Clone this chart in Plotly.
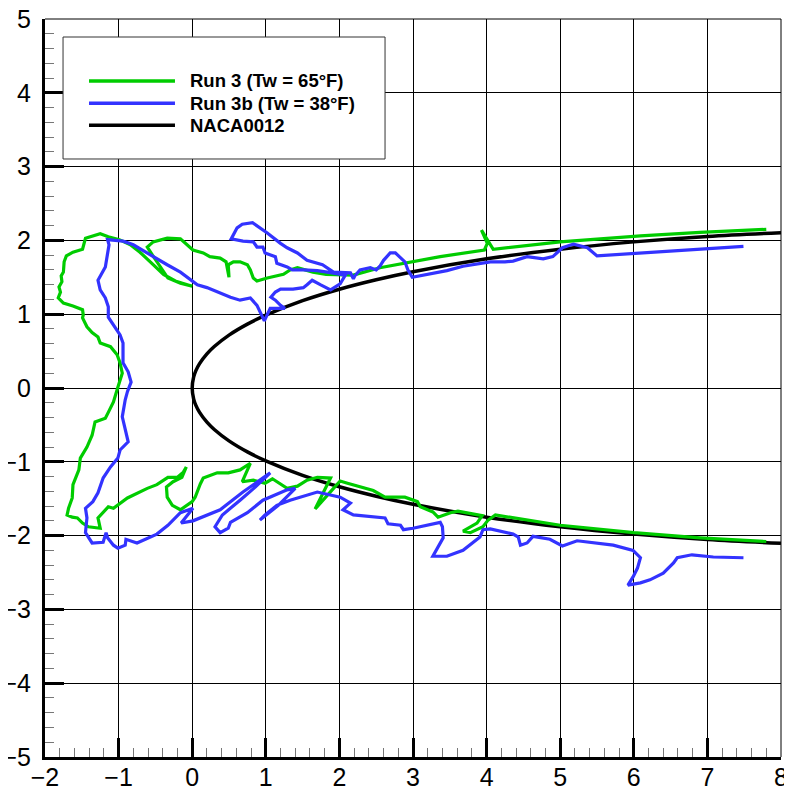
import plotly.graph_objects as go

# ---- Data ----
# NACA0012 surface (upper half; lower half is its mirror image)
naca_x = [0.0, 0.02, 0.05, 0.1, 0.2, 0.3, 0.5, 0.75, 1.0, 1.5, 2.0, 2.5, 3.0,
          4.0, 5.0, 6.0, 7.0, 8.0]
naca_yt = [0.0, 0.150, 0.235, 0.330, 0.463, 0.562, 0.717, 0.866, 0.987, 1.183,
           1.338, 1.466, 1.575, 1.750, 1.881, 1.980, 2.054, 2.105]

# Run 3 (Tw = 65 F) ice shape
run3_x = [7.80, 6.90, 6.09, 5.00, 4.09, 3.93, 4.01, 3.97, 3.37, 2.83, 2.55, 2.19,
          1.82, 1.64, 1.43, 1.33, 1.24, 1.02, 0.88, 0.83, 0.79, 0.75, 0.65, 0.56,
          0.49, 0.50, 0.46, 0.38, 0.24, 0.15, 0.01, -0.16, -0.34, -0.53, -0.61,
          -0.54, -0.43, -0.33, -0.16, 0.00, -0.23, -0.39, -0.57, -0.71, -0.84,
          -0.99, -1.14, -1.25, -1.45, -1.49, -1.62, -1.71, -1.74, -1.75, -1.78,
          -1.77, -1.81, -1.79, -1.82, -1.75, -1.62, -1.49, -1.48, -1.49, -1.43,
          -1.36, -1.28, -1.25, -1.11, -1.02, -0.98, -0.95, -1.01, -1.05, -1.07,
          -1.14, -1.18, -1.32, -1.36, -1.43, -1.52, -1.54, -1.62, -1.63, -1.68,
          -1.70, -1.63, -1.56, -1.49, -1.41, -1.25, -1.28, -1.14, -1.07, -0.88,
          -0.61, -0.48, -0.33, -0.20, -0.12, -0.08, -0.14, -0.26, -0.35, -0.34,
          -0.27, -0.16, 0.00, 0.04, 0.11, 0.15, 0.34, 0.49, 0.65, 0.79, 0.68,
          0.83, 0.99, 1.09, 1.29, 1.43, 1.56, 1.70, 1.88, 1.67, 1.92, 2.01, 2.11,
          2.46, 2.62, 2.89, 3.06, 3.10, 3.27, 3.34, 3.51, 3.61, 3.94, 3.87, 3.68,
          3.78, 3.95, 4.02, 4.12, 5.00, 6.00, 6.90, 7.80]
run3_y = [2.15, 2.11, 2.06, 1.98, 1.88, 2.14, 1.96, 1.87, 1.78, 1.68, 1.63, 1.53,
          1.54, 1.57, 1.63, 1.60, 1.54, 1.49, 1.45, 1.49, 1.60, 1.67, 1.71, 1.71,
          1.67, 1.50, 1.71, 1.76, 1.78, 1.83, 1.87, 2.02, 2.03, 1.98, 1.91,
          1.80, 1.63, 1.49, 1.42, 1.38, 1.45, 1.54, 1.71, 1.84, 1.94,
          2.01, 2.05, 2.09, 2.03, 1.88, 1.84, 1.79, 1.71, 1.57, 1.52,
          1.44, 1.37, 1.30, 1.22, 1.15, 1.11, 1.06, 0.99, 0.95, 0.83,
          0.75, 0.69, 0.61, 0.56, 0.45, 0.34, 0.20, 0.01, -0.14, -0.19,
          -0.33, -0.41, -0.46, -0.64, -0.80, -0.95, -1.11, -1.31, -1.49, -1.63,
          -1.72, -1.75, -1.76, -1.83, -1.88, -1.90, -1.76, -1.61, -1.63, -1.49,
          -1.36, -1.31, -1.21, -1.21, -1.14, -1.07, -1.21, -1.27, -1.34, -1.48,
          -1.59, -1.65, -1.54, -1.48, -1.30, -1.22, -1.15, -1.15, -1.11, -1.02, -1.27,
          -1.25, -1.29, -1.23, -1.36, -1.33, -1.25, -1.21, -1.22, -1.64, -1.36, -1.26, -1.29,
          -1.39, -1.48, -1.48, -1.54, -1.61, -1.68, -1.75, -1.69, -1.67, -1.73, -1.83, -1.94,
          -1.96, -1.88, -1.79, -1.72, -1.86, -1.96, -2.03, -2.08]

# Run 3b (Tw = 38 F) ice shape
run3b_x = [7.49, 5.50, 5.37, 5.18, 5.03, 4.90, 4.77, 4.55, 4.36, 4.25, 4.05, 3.68,
           3.46, 3.19, 2.99, 2.93, 2.89, 2.76, 2.69, 2.60, 2.55, 2.50, 2.42, 2.28,
           2.21, 2.19, 2.15, 1.92, 1.77, 1.56, 1.43, 1.29, 1.20, 1.02, 0.82, 0.68,
           0.61, 0.53, 0.69, 0.83, 0.88, 0.96, 0.99, 1.13, 1.15, 1.29, 1.36, 1.51,
           1.70, 1.90, 2.08, 2.01, 1.88, 1.74, 1.63, 1.56, 1.51, 1.37, 1.20, 1.13,
           1.07, 1.13, 1.20, 1.26, 1.06, 0.98, 0.88, 0.79, 0.65, 0.52, 0.20, 0.07,
           -0.16, -0.34, -0.57, -0.80, -0.94, -1.15, -1.13, -1.15, -1.18, -1.28,
           -1.25, -1.18, -1.14, -1.14, -1.07, -0.98, -0.94, -0.94, -0.87, -0.83,
           -0.88, -0.91, -0.95, -0.87, -0.98, -1.01, -1.11, -1.21, -1.28, -1.35,
           -1.45, -1.43, -1.45, -1.36, -1.21, -1.17, -1.15, -1.07, -1.01, -0.91,
           -0.90, -0.75, -0.48, -0.33, -0.16, 0.01, -0.15, 0.01, 0.38, 0.69, 1.06,
           0.86, 0.65, 0.41, 0.31, 0.38, 0.49, 0.52, 0.75, 0.96, 1.29, 1.40, 1.17,
           0.92, 0.99, 1.15, 1.33, 1.70, 2.01, 2.15, 2.05, 2.19, 2.62, 2.66, 2.83,
           2.87, 3.00, 3.19, 3.37, 3.40, 3.41, 3.27, 3.46, 3.68, 3.82, 3.91, 3.95,
           4.05, 4.36, 4.43, 4.46, 4.55, 4.63, 4.86, 5.03, 5.23, 5.72, 5.99, 6.09,
           6.05, 5.99, 5.92, 6.09, 6.22, 6.40, 6.54, 6.59, 6.79, 7.08, 7.49]
run3b_y = [1.92, 1.79, 1.90, 1.95, 1.90, 1.78, 1.75, 1.78, 1.72, 1.71, 1.71, 1.65,
           1.59, 1.54, 1.50, 1.60, 1.71, 1.83, 1.83, 1.73, 1.65, 1.60, 1.63, 1.60,
           1.52, 1.48, 1.56, 1.57, 1.67, 1.73, 1.83, 1.90, 1.96, 2.10, 2.24, 2.22,
           2.17, 2.02, 1.99, 1.98, 1.91, 1.91, 1.83, 1.78, 1.69, 1.64, 1.60, 1.60,
           1.59, 1.56, 1.53, 1.41, 1.33, 1.40, 1.46, 1.40, 1.36, 1.34, 1.34, 1.30,
           1.23, 1.19, 1.12, 1.08, 1.08, 0.91, 1.12, 1.22, 1.19, 1.23, 1.36, 1.40,
           1.57, 1.67, 1.80, 1.94, 1.99, 2.01, 1.94, 1.83, 1.64, 1.46,
           1.33, 1.22, 1.10, 0.96, 0.85, 0.72, 0.61, 0.34, 0.22, 0.08,
           -0.05, -0.16, -0.39, -0.73, -0.84, -0.95, -1.07, -1.22, -1.42, -1.54,
           -1.63, -1.76, -1.96, -2.10, -2.09, -1.96, -2.03, -2.13, -2.17, -2.13,
           -2.05, -2.10, -1.98, -1.86, -1.69, -1.63, -1.83, -1.80, -1.65, -1.41, -1.15,
           -1.34, -1.52, -1.72, -1.88, -1.96, -1.90, -1.82, -1.69, -1.52, -1.38, -1.36, -1.59,
           -1.79, -1.72, -1.59, -1.52, -1.41, -1.48, -1.56, -1.65, -1.72, -1.76, -1.84, -1.86,
           -1.92, -1.90, -1.86, -1.82, -1.88, -2.03, -2.28, -2.28, -2.20, -2.09, -2.02, -1.92,
           -1.91, -1.98, -2.02, -2.13, -2.10, -2.01, -2.05, -2.14, -2.07, -2.13, -2.20, -2.30,
           -2.44, -2.56, -2.67, -2.64, -2.60, -2.51, -2.37, -2.30, -2.26, -2.29, -2.30]

x_ticks = [-2, -1, 0, 1, 2, 3, 4, 5, 6, 7, 8]
y_ticks = [-5, -4, -3, -2, -1, 0, 1, 2, 3, 4, 5]

series_names = ["Run 3 (Tw = 65°F)", "Run 3b (Tw = 38°F)", "NACA0012"]
series_colors = ["#00CC00", "#3333FF", "#000000"]

# ---- Figure ----
naca_full_x = naca_x[::-1] + naca_x[1:]
naca_full_y = naca_yt[::-1] + [-v for v in naca_yt[1:]]

fig = go.Figure()
fig.add_trace(go.Scatter(x=naca_full_x, y=naca_full_y, mode="lines", name=series_names[2],
                         line=dict(color=series_colors[2], width=3.5, shape="spline"),
                         showlegend=False))
fig.add_trace(go.Scatter(x=run3_x, y=run3_y, mode="lines", name=series_names[0],
                         line=dict(color=series_colors[0], width=3.2), showlegend=False))
fig.add_trace(go.Scatter(x=run3b_x, y=run3b_y, mode="lines", name=series_names[1],
                         line=dict(color=series_colors[1], width=3.2), showlegend=False))

font_family = "Liberation Sans, Arial, sans-serif"

axis_common = dict(
    showgrid=True, gridcolor="black", gridwidth=1,
    zeroline=False,
    showline=True, linecolor="black", linewidth=3,
    ticks="inside", ticklen=19, tickwidth=3, tickcolor="black",
    tickfont=dict(family=font_family, size=25, color="black"),
    ticklabeloverflow="allow",
    minor=dict(ticks="inside", ticklen=9, tickwidth=1, tickcolor="#777777",
               dtick=0.2, showgrid=False),
    automargin=False,
)

fig.update_xaxes(range=[-2, 8], tickvals=x_ticks, ticklabelstandoff=-4, **axis_common)
fig.update_yaxes(range=[-5, 5], tickvals=y_ticks, ticklabelstandoff=6, **axis_common)

# frame lines along the top (y=5) and right (x=8) edges, as in the reference
fig.add_shape(type="line", xref="paper", yref="paper", x0=0, x1=1, y0=1, y1=1,
              line=dict(color="black", width=1), layer="below")
fig.add_shape(type="line", xref="paper", yref="paper", x0=1, x1=1, y0=0, y1=1,
              line=dict(color="black", width=1), layer="below")

# Legend box drawn manually (paper coordinates)
fig.add_shape(type="rect", xref="paper", yref="paper",
              x0=0.0245, x1=0.462, y0=0.8103, y1=0.9756,
              line=dict(color="#333333", width=1), fillcolor="white", layer="above")
legend_rows = [0.916, 0.886, 0.856]
for name, color, yy in zip(series_names, series_colors, legend_rows):
    fig.add_shape(type="line", xref="paper", yref="paper",
                  x0=0.0598, x1=0.1766, y0=yy, y1=yy,
                  line=dict(color=color, width=3.5), layer="above")
    fig.add_annotation(xref="paper", yref="paper", x=0.194, y=yy, text="<b>%s</b>" % name,
                       showarrow=False, xanchor="left", yanchor="middle",
                       font=dict(family=font_family, size=18.5, color="black"))

# the page places the figure 8 px in from the top-left corner
fig.update_layout(
    width=784, height=781,
    margin=dict(l=37, r=11, t=11, b=32),
    paper_bgcolor="white", plot_bgcolor="white",
    showlegend=False,
)

fig.write_html("out.html")
